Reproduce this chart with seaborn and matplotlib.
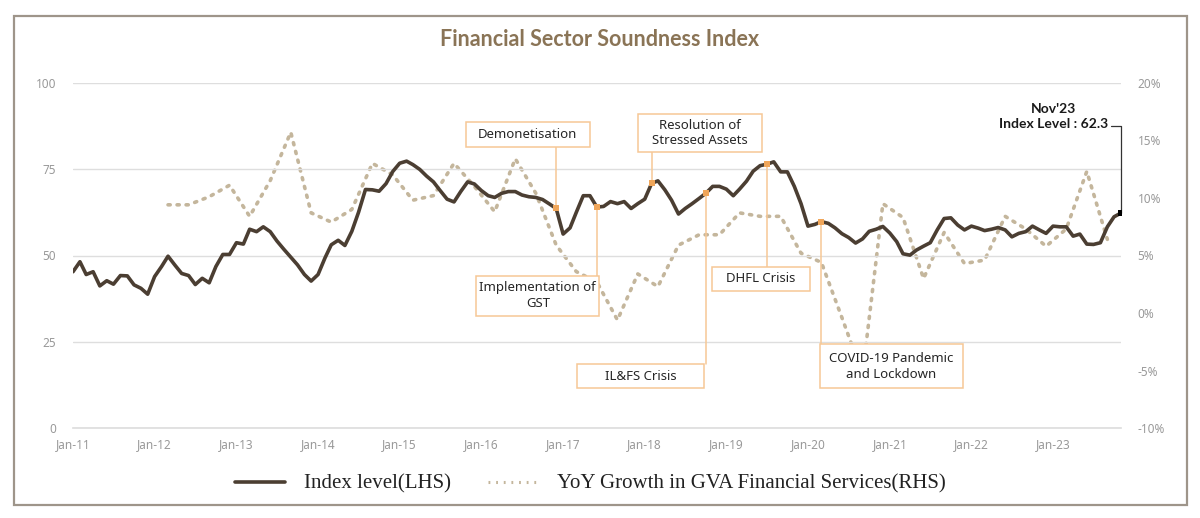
import pandas as pd
import matplotlib
matplotlib.use("Agg")
import matplotlib.pyplot as plt
import matplotlib.dates as mdates
from matplotlib.patches import Rectangle
from matplotlib.ticker import FuncFormatter
import seaborn as sns

# Monthly index level, Jan-11 .. Nov-23 (LHS)
months = pd.date_range("2011-01-01", "2023-11-01", freq="MS")
index_level = [
    45.3, 48.2, 44.5, 45.3, 41.2, 42.7, 41.7, 44.2, 44.1, 41.5, 40.5, 38.8,
    43.9, 46.8, 49.8, 47.2, 44.8, 44.2, 41.6, 43.4, 42.1, 46.8, 50.3, 50.3,
    53.7, 53.3, 57.6, 56.9, 58.3, 56.9, 54.2, 51.8, 49.5, 47.3, 44.5, 42.6,
    44.5, 49.3, 53.1, 54.4, 52.9, 57.0, 62.5, 69.1, 69.0, 68.6, 70.8, 74.3,
    76.7, 77.3, 76.3, 74.9, 73.0, 71.3, 68.8, 66.3, 65.5, 68.5, 71.3, 70.7,
    68.8, 67.3, 66.8, 68.0, 68.5, 68.5, 67.5, 67.0, 66.8, 66.2, 64.9, 63.6,
    56.2, 58.0, 62.5, 67.3, 67.3, 64.0, 64.2, 65.6, 65.0, 65.6, 63.6, 65.0,
    66.3, 70.9, 71.6, 69.0, 66.0, 62.0, 63.6, 65.0, 66.5, 68.0, 70.0, 70.0,
    69.2, 67.3, 69.2, 71.5, 74.4, 76.0, 76.4, 77.1, 74.2, 74.2, 70.0, 65.0,
    58.5, 59.0, 59.8, 59.3, 58.0, 56.3, 55.2, 53.6, 54.8, 57.0, 57.6, 58.4,
    56.5, 54.0, 50.5, 50.1, 51.6, 52.7, 53.7, 57.4, 60.7, 60.9, 58.8, 57.4,
    58.5, 57.9, 57.2, 57.6, 58.1, 57.4, 55.4, 56.4, 56.9, 58.5, 57.4, 56.4,
    58.5, 58.3, 58.3, 55.6, 56.2, 53.3, 53.2, 53.7, 58.3, 61.2, 62.3,
]

# Quarterly YoY growth in GVA financial services, Mar-12 .. Sep-23 (RHS, %)
quarters = pd.date_range("2012-03-01", "2023-09-01", freq="3MS")
gva_growth = [
    9.4, 9.4, 10.1, 11.1, 8.4, 11.5, 15.7, 8.7, 7.9, 9.0,
    13.0, 12.0, 9.8, 10.2, 13.0, 11.0, 8.8, 13.4, 10.4, 5.9,
    3.6, 2.7, -0.6, 3.4, 2.3, 5.9, 6.8, 6.8, 8.7, 8.4,
    8.4, 5.2, 4.4, -0.4, -5.3, 9.5, 8.3, 3.0, 7.0, 4.3,
    4.6, 8.4, 7.3, 5.8, 7.3, 12.3, 6.4,
]

event_labels = ["Demonetisation", "Implementation of\nGST", "Resolution of\nStressed Assets",
                "IL&FS Crisis", "DHFL Crisis", "COVID-19 Pandemic\nand Lockdown"]
event_months = ["2016-12-01", "2017-06-01", "2018-02-01", "2018-10-01", "2019-07-01", "2020-03-01"]

left_label = "Index level(LHS)"
right_label = "YoY Growth in GVA Financial Services(RHS)"
title = "Financial Sector Soundness Index"

df_idx = pd.DataFrame({"date": months, "value": index_level})
df_gva = pd.DataFrame({"date": quarters, "value": gva_growth})
ev = df_idx.set_index("date").loc[pd.to_datetime(event_months), "value"]

sns.set_theme(style="white")
plt.rcParams["font.family"] = ["Noto Sans", "DejaVu Sans"]

DARK = "#4b3e32"
TAN = "#c4b69c"
ORANGE = "#f0a65a"
BOX = "#f6c896"
GRAY = "#999999"
GRID = "#dedede"

fig = plt.figure(figsize=(12, 5.18), dpi=100)
ax = fig.add_axes([73 / 1200, 1 - 428.3 / 518, 1048 / 1200, 345.6 / 518])
ax2 = ax.twinx()

sns.lineplot(data=df_gva, x="date", y="value", ax=ax2, color=TAN, lw=2.6,
             linestyle=(0, (0.6, 1.9)), dash_capstyle="round")
sns.lineplot(data=df_idx, x="date", y="value", ax=ax, color=DARK, lw=2.6)

ax.set_zorder(ax2.get_zorder() + 1)
ax.patch.set_visible(False)

ax.set_xlim(months[0], months[-1])
ax.set_ylim(0, 100)
ax2.set_ylim(-10, 20)
ax.set_yticks([0, 25, 50, 75, 100])
ax2.set_yticks([-10, -5, 0, 5, 10, 15, 20])
ax2.yaxis.set_major_formatter(FuncFormatter(lambda v, p: f"{v:.0f}%"))
ax.xaxis.set_major_locator(mdates.MonthLocator(bymonth=1))
ax.xaxis.set_major_formatter(mdates.DateFormatter("%b-%y"))
ax.set_xlabel("")
ax.set_ylabel("")
ax2.set_ylabel("")

ax.grid(axis="y", color=GRID, lw=1)
for a in (ax, ax2):
    for s in a.spines.values():
        s.set_visible(False)
ax.spines["bottom"].set_visible(True)
ax.spines["bottom"].set_color(GRID)
ax.tick_params(axis="x", colors=GRAY, labelsize=8.5, length=3, color=GRID, pad=4)
ax.tick_params(axis="y", colors=GRAY, labelsize=8.5, length=0, pad=12)
ax2.tick_params(axis="y", colors=GRAY, labelsize=8.5, length=0, pad=12)

# event markers, connectors and boxes
xt = ax.get_xaxis_transform()
boxes = [
    (0.375, 0.813, 0.493, 0.886, "bottom"),
    (0.385, 0.326, 0.502, 0.442, "top"),
    (0.539, 0.800, 0.657, 0.909, "bottom"),
    (0.481, 0.116, 0.602, 0.186, "top"),
    (0.610, 0.398, 0.703, 0.468, "top"),
    (0.713, 0.116, 0.849, 0.243, "top"),
]
for (x0, y0, x1, y1, side), label, d, v in zip(boxes, event_labels, ev.index, ev.values):
    edge = y0 if side == "bottom" else y1
    ax.plot([d, d], [v / 100, edge], transform=xt, color=BOX, lw=1.1, zorder=3)
    ax.add_patch(Rectangle((x0, y0), x1 - x0, y1 - y0, transform=ax.transAxes,
                           fc="white", ec=BOX, lw=1.1, zorder=4))
    ax.text((x0 + x1) / 2, (y0 + y1) / 2, label, transform=ax.transAxes,
            ha="center", va="center", fontsize=9.5, color="#262626",
            linespacing=1.25, zorder=5)
ax.scatter(ev.index, ev.values, marker="s", s=22, color=ORANGE, zorder=6, linewidths=0)

# latest value callout
last_d, last_v = months[-1], index_level[-1]
ax.scatter([last_d], [last_v], marker="s", s=24, color="black", zorder=7, linewidths=0)
ax.plot([0.990, 1.0, 1.0], [0.875, 0.875, last_v / 100], transform=ax.transAxes,
        color="#333333", lw=0.9, zorder=6, clip_on=False)
ax.text(0.936, 0.901, f"Nov'23\nIndex Level : {last_v}", transform=ax.transAxes,
        ha="center", va="center", fontsize=10, fontweight="bold", color="#1a1a1a",
        linespacing=1.3, family=["Lato", "DejaVu Sans"])

fig.text(0.5, 1 - 40 / 518, title, ha="center", va="center", fontsize=15.5,
         fontweight="bold", color="#8a7456", family=["Lato", "DejaVu Sans"])

h1 = plt.Line2D([], [], color=DARK, lw=2.6)
h2 = plt.Line2D([], [], color=TAN, lw=2.2, linestyle=(0, (0.6, 1.9)))
fig.legend([h1, h2], [left_label, right_label], loc="center", ncol=2,
           bbox_to_anchor=(0.492, 1 - 484 / 518), frameon=False,
           prop={"family": "Liberation Serif", "size": 15}, handlelength=2.4,
           handletextpad=0.9, columnspacing=1.8, labelcolor="#222222")

fig.patches.append(Rectangle((14 / 1200, 1 - 505 / 518), 1173 / 1200, 489 / 518,
                             transform=fig.transFigure, fill=False, ec="#9e958a", lw=1.6))

fig.savefig("out.png", dpi=100)
